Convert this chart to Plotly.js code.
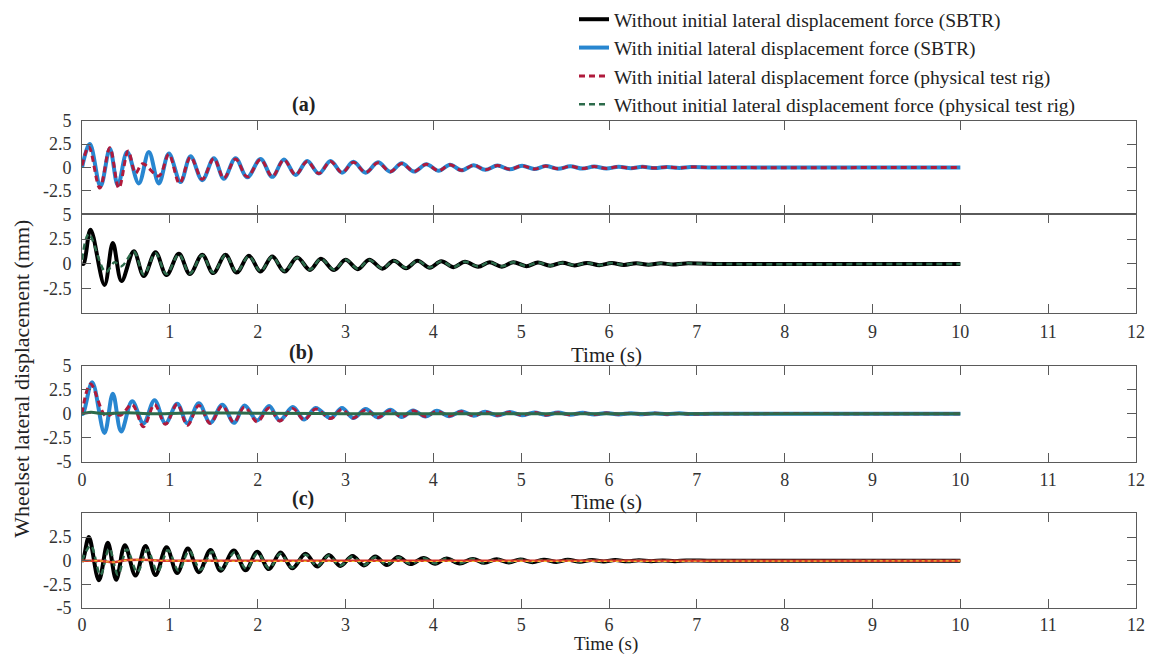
<!DOCTYPE html>
<html><head><meta charset="utf-8">
<script src="https://cdn.plot.ly/plotly-3.0.1.min.js"></script>
<style>html,body{margin:0;padding:0;background:#fff}#chart{width:1149px;height:655px}</style>
</head><body><div id="chart"></div>
<script>
// ---------- data (extremes, time in s, displacement in mm) ----------
// Panel (a), upper plot
const aBlueT = [0,0.089,0.211,0.317,0.408,0.514,0.647,0.761,0.875,0.989,1.122,1.236,1.369,1.501,1.615,1.748,1.881,2.033,2.166,2.299,2.432,2.564,2.697,2.83,2.96,3.09,3.23,3.37,3.51,3.64,3.78,3.92,4.06,4.19,4.32,4.46,4.59,4.73,4.87,5.01,5.15,5.28,5.42,5.56,5.70,5.83,5.97,6.11,6.25,6.38,6.52,6.66,6.80,6.93,7.2,10];
const aBlueV = [0,2.5,-2.0,2.0,-1.9,1.65,-1.7,1.65,-1.7,1.5,-1.55,1.2,-1.35,1.0,-1.2,1.0,-1.05,0.9,-1.0,0.85,-0.8,0.7,-0.65,0.7,-0.55,0.6,-0.55,0.55,-0.45,0.45,-0.43,0.35,-0.35,0.3,-0.3,0.25,-0.25,0.2,-0.2,0.18,-0.17,0.15,-0.14,0.12,-0.12,0.1,-0.1,0.08,-0.08,0.07,-0.06,0.05,-0.05,0.04,0,0];
const aRedT = [0,0.078,0.203,0.317,0.42,0.526,0.61,0.69,0.875,0.989,1.11,1.236,1.369,1.501,1.615,1.748,1.881,2.033,2.166,2.299,2.432,2.564,2.697,2.83,2.96,3.09,3.23,3.37,3.51,3.64,3.78,3.92,4.06,4.19,4.32,4.46,4.59,4.73,4.87,5.01,5.15,5.28,5.42,5.56,5.70,5.83,5.97,6.11,6.25,6.38,6.52,6.66,6.80,6.93,7.2,10];
const aRedV = [0.2,2.2,-2.2,2.1,-2.2,1.75,-0.6,0.4,-0.9,1.4,-1.7,1.1,-1.25,0.95,-1.15,0.9,-1.0,0.85,-0.95,0.8,-0.78,0.65,-0.65,0.65,-0.55,0.55,-0.53,0.5,-0.45,0.42,-0.42,0.35,-0.35,0.3,-0.3,0.25,-0.25,0.2,-0.2,0.18,-0.17,0.15,-0.14,0.12,-0.12,0.1,-0.1,0.08,-0.08,0.07,-0.06,0.05,-0.05,0.04,0,0];
// Panel (a), lower plot
const bBlackT = [0,0.02,0.097,0.256,0.351,0.45,0.59,0.704,0.837,0.962,1.103,1.228,1.369,1.494,1.634,1.76,1.90,2.033,2.166,2.306,2.45,2.595,2.72,2.87,3.0,3.14,3.27,3.42,3.55,3.69,3.82,3.96,4.09,4.23,4.36,4.51,4.64,4.78,4.91,5.06,5.19,5.33,5.47,5.61,5.75,5.89,6.03,6.17,6.31,6.45,6.59,6.73,6.87,7.2,10];
const bBlackV = [0,0,3.45,-2.15,2.1,-1.75,1.25,-1.25,1.15,-1.15,1.0,-1.05,0.9,-0.95,0.9,-0.9,0.8,-0.8,0.72,-0.8,0.63,-0.63,0.5,-0.65,0.4,-0.55,0.4,-0.5,0.3,-0.45,0.3,-0.4,0.25,-0.35,0.2,-0.3,0.15,-0.3,0.15,-0.25,0.12,-0.2,0.1,-0.17,0.08,-0.15,0.06,-0.12,0.05,-0.1,0.04,-0.08,0.03,-0.03,-0.02];
const bGreenT = [0,0.078,0.27,0.37,0.45,0.59,0.704,0.837,0.962,1.103,1.228,1.369,1.494,1.634,1.76,1.90,2.033,2.166,2.306,2.45,2.595,2.72,2.87,3.0,3.14,3.27,3.42,3.55,3.69,3.82,3.96,4.09,4.23,4.36,4.51,4.64,4.78,4.91,5.06,5.19,5.33,5.47,5.61,5.75,5.89,6.03,6.17,6.31,6.45,6.59,6.73,6.87,7.2,10];
const bGreenV = [0.4,3.0,-0.85,0.15,-0.25,1.2,-1.1,1.05,-1.05,0.95,-1.0,0.85,-0.9,0.85,-0.85,0.75,-0.75,0.7,-0.75,0.6,-0.6,0.5,-0.6,0.4,-0.5,0.38,-0.48,0.3,-0.42,0.28,-0.38,0.24,-0.33,0.2,-0.28,0.15,-0.27,0.14,-0.23,0.12,-0.19,0.1,-0.16,0.08,-0.14,0.06,-0.11,0.05,-0.09,0.04,-0.07,0.03,-0.03,-0.02];
// Panel (b)
const cBlueT = [0,0.013,0.116,0.256,0.351,0.446,0.571,0.70,0.826,0.95,1.084,1.20,1.33,1.46,1.597,1.73,1.85,1.995,2.13,2.25,2.40,2.53,2.66,2.83,2.96,3.09,3.23,3.37,3.51,3.64,3.77,3.91,4.04,4.18,4.32,4.46,4.59,4.73,4.87,5.01,5.15,5.28,5.42,5.56,5.70,5.83,5.97,6.11,6.25,6.38,6.52,6.66,6.80,6.93,7.2,10];
const cBlueV = [0,0,3.3,-2.0,2.1,-1.85,1.3,-1.0,1.4,-1.0,1.05,-1.0,1.1,-0.95,0.95,-0.95,0.85,-0.7,0.8,-0.7,0.7,-0.6,0.6,-0.45,0.6,-0.45,0.5,-0.4,0.42,-0.35,0.35,-0.3,0.3,-0.25,0.25,-0.22,0.2,-0.18,0.17,-0.15,0.14,-0.12,0.12,-0.1,0.1,-0.08,0.08,-0.07,0.06,-0.05,0.05,-0.04,0.04,-0.03,0,0];
const cRedT = [0,0.097,0.27,0.36,0.44,0.571,0.70,0.826,0.95,1.084,1.20,1.33,1.46,1.597,1.73,1.85,1.995,2.13,2.25,2.40,2.53,2.66,2.83,2.96,3.09,3.23,3.37,3.51,3.64,3.77,3.91,4.04,4.18,4.32,4.46,4.59,4.73,4.87,5.01,5.15,5.28,5.42,5.56,5.70,5.83,5.97,6.11,6.25,6.38,6.52,6.66,6.80,6.93,7.2,10];
const cRedV = [0,3.1,-0.25,0.05,-0.15,0.95,-1.35,0.95,-1.1,1.0,-1.2,0.85,-1.0,0.8,-0.9,0.7,-0.85,0.6,-0.75,0.55,-0.65,0.5,-0.5,0.45,-0.45,0.4,-0.38,0.35,-0.32,0.3,-0.28,0.25,-0.23,0.22,-0.2,0.18,-0.17,0.15,-0.14,0.12,-0.12,0.1,-0.1,0.08,-0.08,0.07,-0.06,0.05,-0.05,0.04,-0.04,0.03,-0.03,0,0];
const cGreenT = [0,0.1,0.25,0.5,0.8,1.2,2,3,4,10];
const cGreenV = [0,0.15,0.0,0.1,0.0,0.08,0.05,0.0,0.0,0];
// Panel (c)
const dBlackT = [0,0.013,0.078,0.192,0.294,0.389,0.488,0.609,0.723,0.837,0.962,1.084,1.205,1.33,1.463,1.577,1.729,1.862,1.995,2.128,2.261,2.393,2.545,2.678,2.81,2.94,3.08,3.21,3.34,3.47,3.6,3.74,3.89,4.02,4.15,4.3,4.45,4.58,4.72,4.86,4.99,5.13,5.26,5.40,5.53,5.67,5.80,5.94,6.07,6.21,6.34,6.48,6.61,6.75,6.88,7.2,10];
const dBlackV = [0,0.1,2.5,-2.05,1.9,-2.0,1.65,-1.55,1.55,-1.5,1.42,-1.3,1.3,-1.2,1.15,-1.05,1.08,-1.0,0.95,-0.88,0.88,-0.8,0.75,-0.6,0.6,-0.55,0.5,-0.5,0.45,-0.45,0.4,-0.35,0.3,-0.3,0.25,-0.28,0.2,-0.22,0.17,-0.18,0.14,-0.15,0.12,-0.12,0.1,-0.1,0.08,-0.08,0.07,-0.06,0.05,-0.05,0.04,-0.04,0.03,0,0];
const dGreenT = [0,0.1,0.21,0.31,0.41,0.51,0.63,0.745,0.86,0.98,1.10,1.22,1.35,1.48,1.59,1.74,1.87,2.0,2.13,2.26,2.39,2.545,2.678,2.81,2.94,3.08,3.21,3.34,3.47,3.6,3.74,3.89,4.02,4.15,4.3,4.45,4.58,4.72,4.86,4.99,5.13,5.26,5.40,5.53,5.67,5.80,5.94,6.07,6.21,6.34,6.48,6.61,6.75,6.88,7.2,10];
const dGreenV = [0,1.6,-1.5,1.3,-1.5,1.2,-1.2,1.15,-1.15,1.1,-1.05,1.05,-0.95,0.95,-0.9,0.9,-0.85,0.8,-0.78,0.75,-0.7,0.65,-0.55,0.55,-0.5,0.45,-0.45,0.4,-0.4,0.36,-0.32,0.28,-0.27,0.23,-0.25,0.18,-0.2,0.15,-0.16,0.13,-0.13,0.11,-0.11,0.09,-0.09,0.07,-0.07,0.06,-0.05,0.05,-0.04,0.04,-0.03,0.03,0,0];
const dFlatT = [0,0.2,0.35,0.5,0.7,1.0,10];
const dFlatV = [0,0,-0.15,0.05,0.1,0,0];

// ---------- labels ----------
const legendNames = [
  'Without initial lateral displacement force (SBTR)',
  'With initial lateral displacement force (SBTR)',
  'With initial lateral displacement force (physical test rig)',
  'Without initial lateral displacement force (physical test rig)'
];
const panelTitles = ['(a)', '(b)', '(c)'];
const xTitle = 'Time (s)';
const yTitle = 'Wheelset lateral displacement (mm)';
const xTicks = [0,1,2,3,4,5,6,7,8,9,10,11,12];
const yTicks = [-5,-2.5,0,2.5,5];

// ---------- style ----------
const FONT = 'Liberation Serif';
const BLUE = '#2886d0', RED = '#b01a3c', GREEN = '#2d6b4b', BLACK = '#000000';
const AX = '#5a5a5a';

function tr(x, y, n, color, width, dash, name, rank) {
  const t = {type:'scatter', mode:'lines', x:x, y:y, xaxis:'x'+(n>1?n:''), yaxis:'y'+(n>1?n:''),
    line:{color:color, width:width, dash:dash||'solid', shape:'spline', smoothing:1},
    hoverinfo:'skip', showlegend:false};
  if (name) { t.name = name; t.showlegend = true; t.legendrank = rank; }
  return t;
}

const traces = [
  tr(aBlueT, aBlueV, 1, BLUE, 4, 'solid', legendNames[1], 2),
  tr(aRedT, aRedV, 1, RED, 3, '6px,4px', legendNames[2], 3),
  tr(bBlackT, bBlackV, 2, BLACK, 4, 'solid', legendNames[0], 1),
  tr(bGreenT, bGreenV, 2, GREEN, 2.5, '6px,4px', legendNames[3], 4),
  tr(cBlueT, cBlueV, 3, BLUE, 4, 'solid'),
  tr(cRedT, cRedV, 3, RED, 3, '6px,4px'),
  tr(cGreenT, cGreenV, 3, GREEN, 3, 'solid'),
  tr(dBlackT, dBlackV, 4, BLACK, 4, 'solid'),
  tr(dGreenT, dGreenV, 4, GREEN, 2.5, '6px,4px'),
  tr(dFlatT, dFlatV, 4, '#d8342a', 2.5, 'solid'),
  tr(dFlatT, dFlatV, 4, '#f2c12e', 1.2, 'dot')
];

const H = 655, W0 = 82, PW = 1054;
function dom(top, bottom) { return [(H-bottom)/H, (H-top)/H]; }
function px(x) { return (x - W0) / PW; }
function py(y) { return (H - y) / H; }
const xTickFont = {family:FONT, size:18, color:'#333'};
const yTickFont = {family:FONT, size:18, color:'#333'};

function xaxis(n, showLabels, ticktextArr, tickvalsArr, standoff) {
  return {domain:[0,1], range:[0,12], anchor:'y'+(n>1?n:''), showline:true, mirror:'ticks',
    linecolor:AX, linewidth:1, ticks:'inside', ticklen:9, tickcolor:AX, tickwidth:1,
    tickvals:tickvalsArr, ticktext:ticktextArr, showticklabels:showLabels,
    showgrid:false, zeroline:false, tickfont:xTickFont, ticklabelstandoff:standoff, fixedrange:true};
}
function yaxis(n, d, labels) {
  return {domain:d, range:[-5,5], anchor:'x'+(n>1?n:''), showline:true, mirror:'ticks',
    linecolor:AX, linewidth:1, ticks:'inside', ticklen:9, tickcolor:AX, tickwidth:1,
    tickvals:yTicks, ticktext:labels, showgrid:false, zeroline:false, tickfont:yTickFont,
    ticklabelstandoff:6, fixedrange:true};
}
const xLab = xTicks.map(String);
const xLabNo0 = xTicks.map(v => v === 0 ? '' : String(v));
const yLabAll = yTicks.map(v => String(v));

function ann(text, x, y, size, extra) {
  return Object.assign({text:text, xref:'paper', yref:'paper', x:px(x), y:py(y), xanchor:'center', yanchor:'middle',
    showarrow:false, font:{family:FONT, size:size, color:'#222'}}, extra || {});
}

const layout = {
  width:1149, height:655, margin:{l:82, r:13, t:0, b:0},
  paper_bgcolor:'#ffffff', plot_bgcolor:'#ffffff',
  font:{family:FONT, color:'#222'},
  xaxis: xaxis(1, false, xLab, [0,2,4,6,8,10,12], 2),
  yaxis: yaxis(1, dom(119,213), ['', '-2.5', '0', '2.5', '5']),
  xaxis2: xaxis(2, true, xLabNo0, xTicks, 2),
  yaxis2: yaxis(2, dom(213,312), ['', '-2.5', '0', '2.5', '5']),
  xaxis3: xaxis(3, true, xLab, xTicks, 2),
  yaxis3: yaxis(3, dom(365,461), yLabAll),
  xaxis4: xaxis(4, true, xLab, xTicks, 0),
  yaxis4: yaxis(4, dom(513,608), ['-5', '-2.5', '0', '2.5', '']),
  showlegend:true,
  legend:{x:px(574), y:1.003, xanchor:'left', yanchor:'top', bgcolor:'rgba(0,0,0,0)',
    font:{family:FONT, size:19.5, color:'#222'}, tracegroupgap:0},
  annotations:[
    ann('<b>'+panelTitles[0]+'</b>', 303, 103, 20),
    ann('<b>'+panelTitles[1]+'</b>', 301, 352, 20),
    ann('<b>'+panelTitles[2]+'</b>', 303, 498, 20),
    ann(xTitle, 606, 354, 21),
    ann(xTitle, 606, 502, 21),
    ann(xTitle, 606, 644, 19),
    ann(yTitle, 22, 378, 22, {textangle:-90})
  ]
};

Plotly.newPlot('chart', traces, layout, {staticPlot:true, displayModeBar:false});
</script>
</body></html>
